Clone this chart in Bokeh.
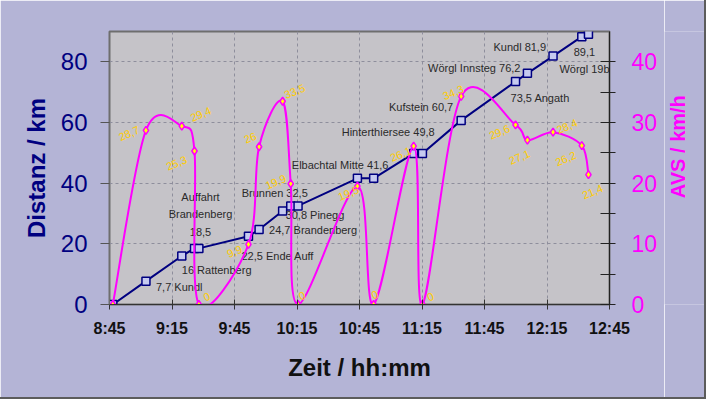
import math

from bokeh.core.properties import value
from bokeh.embed import file_html
from bokeh.layouts import row
from bokeh.models import ColumnDataSource, FixedTicker, LinearAxis, Range1d
from bokeh.plotting import figure
from bokeh.resources import INLINE

# waypoints of the ride (clock time, distance, average speed, labels)
zeit = [
    "8:46:36", "9:02:30", "9:19:42", "9:25:48", "9:27:54", "9:51:42", "9:56:48",
    "10:08:06", "10:12:00", "10:15:30", "10:44:00", "10:51:48", "11:11:00",
    "11:15:12", "11:33:48", "11:59:54", "12:05:36", "12:17:54", "12:31:42",
    "12:34:54",
]
distanz_km = [0, 7.7, 16, 18.5, 18.5, 22.5, 24.7, 30.8, 32.5, 32.5, 41.6, 41.6,
              49.8, 49.8, 60.7, 73.5, 76.2, 81.9, 88.3, 89.1]
avs_kmh = [0, 28.7, 29.4, 25.3, 0, 9.9, 26, 33.5, 19.9, 0, 19.5, 0, 26.1, 0,
           34.3, 29.6, 27.1, 28.4, 26.2, 21.4]
ort_labels = [
    "", "7,7 Kundl", "16 Rattenberg", "Auffahrt\nBrandenberg\n18,5", "",
    "22,5 Ende Auff", "24,7 Brandenberg", "30,8 Pinegg", "Brunnen 32,5", "",
    "Elbachtal Mitte 41,6", "", "Hinterthiersee 49,8", "", "Kufstein 60,7",
    "73,5 Angath", "Wörgl Innsteg 76,2", "Kundl 81,9", "", "89,1\nWörgl 19b",
]
avs_labels = ["", "28,7", "29,4", "25,3", "0", "9,9", "26", "33,5", "19,9", "0",
              "19,5", "0", "26,1", "0", "34,3", "29,6", "27,1", "28,4", "26,2",
              "21,4"]
zeit_ticks = ["8:45", "9:15", "9:45", "10:15", "10:45", "11:15", "11:45",
              "12:15", "12:45"]

# label placement (screen px relative to the marker)
ort_align = ["left", "left", "left", "center", "left", "left", "left", "left",
             "right", "left", "right", "left", "right", "left", "right",
             "left", "right", "right", "left", "center"]
ort_dx = [0, 10, 0, 6, 0, -7, 10, 3, 17, 0, 31, 0, 21, 0, -8, -5, -7, -7, 0, -4]
ort_dy = [0, 6, 14, -34, 0, 20, 0, 4, -13, 0, -13, 0, -21, 0, -13, 16, -5, -9,
          0, 26]
avs_dx = [0, -17, 19, -18, 8, -14, -9, 12, -15, 4, -9, 1, -13, 8, -8, -16, -8,
          14, -16, 4]
avs_dy = [0, 3, -12, 12, -8, 7, -9, -10, -2, -9, 7, -10, 8, -8, -4, 7, 17, -6,
          13, 17]

NAVY = "#000080"
MAGENTA = "#ff00ff"
FONT = "Liberation Sans"
BG = "#b4b4d6"
H, TOP, BOTTOM = 397, 31, 93
TITLE_W = 40


def minutes(s):
    parts = [int(v) for v in s.split(":")] + [0]
    return parts[0] * 60 + parts[1] + parts[2] / 60


t = [minutes(s) for s in zeit]
tick_pos = [minutes(s) for s in zeit_ticks]

p = figure(
    width=704 - TITLE_W,
    height=H,
    x_range=(tick_pos[0], tick_pos[-1]),
    y_range=(0, 90),
    output_backend="svg",
    toolbar_location=None,
    min_border_left=109,
    min_border_right=55,
    min_border_top=TOP,
    min_border_bottom=BOTTOM,
    background_fill_color="#c5c3c8",
    border_fill_color=BG,
)
p.extra_y_ranges = {"avs": Range1d(0, 45)}
p.outline_line_color = "#6e6e6e"
p.outline_line_width = 2

# axes
p.xaxis.ticker = FixedTicker(ticks=tick_pos)
p.xaxis.major_label_overrides = {tp: lab for tp, lab in zip(tick_pos, zeit_ticks)}
p.xaxis.axis_label = "Zeit / hh:mm"
p.xaxis.major_tick_in = 5
p.xaxis.major_tick_out = 5
p.xaxis.minor_tick_line_color = None
p.xaxis.major_label_standoff = 10
p.xaxis.axis_label_standoff = 14
p.xaxis.major_label_text_font_size = "16px"
p.xaxis.major_label_text_font_style = "bold"
p.xaxis.major_label_text_color = "#111111"
p.xaxis.axis_label_text_font_size = "24px"
p.xaxis.axis_label_text_color = "#111111"
p.xaxis.axis_line_color = "#333333"
p.xaxis.major_tick_line_color = "#333333"

p.yaxis.ticker = FixedTicker(ticks=[0, 20, 40, 60, 80])
p.yaxis.axis_label = "Distanz / km"
p.yaxis.major_tick_in = 0
p.yaxis.major_tick_out = 9
p.yaxis.minor_tick_line_color = None
p.yaxis.major_label_standoff = 13
p.yaxis.axis_label_standoff = 8
p.yaxis.major_label_text_font_size = "24px"
p.yaxis.major_label_text_color = NAVY
p.yaxis.axis_label_text_font_size = "24px"
p.yaxis.axis_label_text_color = NAVY
p.yaxis.axis_line_color = "#6e6e6e"
p.yaxis.major_tick_line_color = "#555555"

right = LinearAxis(
    y_range_name="avs",
    ticker=FixedTicker(ticks=[0, 10, 20, 30, 40], minor_ticks=[5, 15, 25, 35]),
)
right.major_tick_in = 9
right.major_tick_out = 6
right.minor_tick_in = 9
right.minor_tick_out = 6
right.major_label_standoff = 16
right.major_label_text_font_size = "23px"
right.major_label_text_color = MAGENTA
right.axis_line_color = "#222222"
right.major_tick_line_color = "#222222"
right.minor_tick_line_color = "#222222"
p.add_layout(right, "right")

for ax in (p.xaxis[0], p.yaxis[0], right):
    ax.major_label_text_font = FONT
    ax.axis_label_text_font = FONT
    ax.axis_label_text_font_style = "bold"

p.xgrid.grid_line_color = "#8e8e9c"
p.xgrid.grid_line_dash = "3 3"
p.ygrid.grid_line_color = "#8e8e9c"
p.ygrid.grid_line_dash = "3 3"

# distance series
src = ColumnDataSource(dict(t=t, d=distanz_km, v=avs_kmh))
p.line("t", "d", source=src, line_color=NAVY, line_width=2)
p.scatter("t", "d", source=src, marker="square", size=8,
          fill_color="#c6caf0", line_color=NAVY, line_width=1.5)

for align in ("left", "center", "right"):
    idx = [i for i, a in enumerate(ort_align) if a == align and ort_labels[i]]
    p.text(
        [t[i] for i in idx], [distanz_km[i] for i in idx],
        text=[ort_labels[i] for i in idx],
        x_offset=[ort_dx[i] for i in idx], y_offset=[ort_dy[i] for i in idx],
        text_align=align, text_baseline="middle", text_font=value(FONT),
        text_font_size="11px", text_color="#2a2a2a", text_line_height=1.45,
    )

# average speed, smoothed like a spreadsheet "smooth line"
n = len(t)
x0, y0, x1, y1, cx0, cy0, cx1, cy1 = ([] for _ in range(8))
for i in range(n - 1):
    a, b = max(i - 1, 0), min(i + 2, n - 1)
    x0.append(t[i]); y0.append(avs_kmh[i])
    x1.append(t[i + 1]); y1.append(avs_kmh[i + 1])
    cx0.append(t[i] + (t[i + 1] - t[a]) / 6)
    cy0.append(avs_kmh[i] + (avs_kmh[i + 1] - avs_kmh[a]) / 6)
    cx1.append(t[i + 1] - (t[b] - t[i]) / 6)
    cy1.append(avs_kmh[i + 1] - (avs_kmh[b] - avs_kmh[i]) / 6)
p.bezier(x0=x0, y0=y0, x1=x1, y1=y1, cx0=cx0, cy0=cy0, cx1=cx1, cy1=cy1,
         line_color=MAGENTA, line_width=2, y_range_name="avs")
p.scatter("t", "v", source=src, marker="diamond", size=8, fill_color="#ffff00",
          line_color=MAGENTA, line_width=1.5, y_range_name="avs")
p.text(t, avs_kmh, text=avs_labels, x_offset=avs_dx, y_offset=avs_dy,
       angle=0.4, text_align="center", text_baseline="middle",
       text_font=value(FONT), text_font_size="11px", text_color="#ffcc00",
       y_range_name="avs")

# narrow strip carrying the right-hand axis title, read bottom to top
q = figure(
    width=TITLE_W, height=H, x_range=(0, TITLE_W), y_range=(0, H),
    output_backend="svg", toolbar_location=None, min_border=0,
    background_fill_color=BG, border_fill_color=BG,
)
q.axis.visible = False
q.grid.visible = False
q.outline_line_color = None
q.text([13], [H - (TOP + (H - BOTTOM)) / 2], text=["AVS / km/h"],
       angle=math.pi / 2, text_align="center", text_baseline="middle",
       text_font=value(FONT), text_font_size="20px", text_font_style="bold",
       text_color=MAGENTA)

page = row(p, q, styles={"outline": "2px solid #5c5c5c"})
open("out.html", "w").write(file_html(page, INLINE))
